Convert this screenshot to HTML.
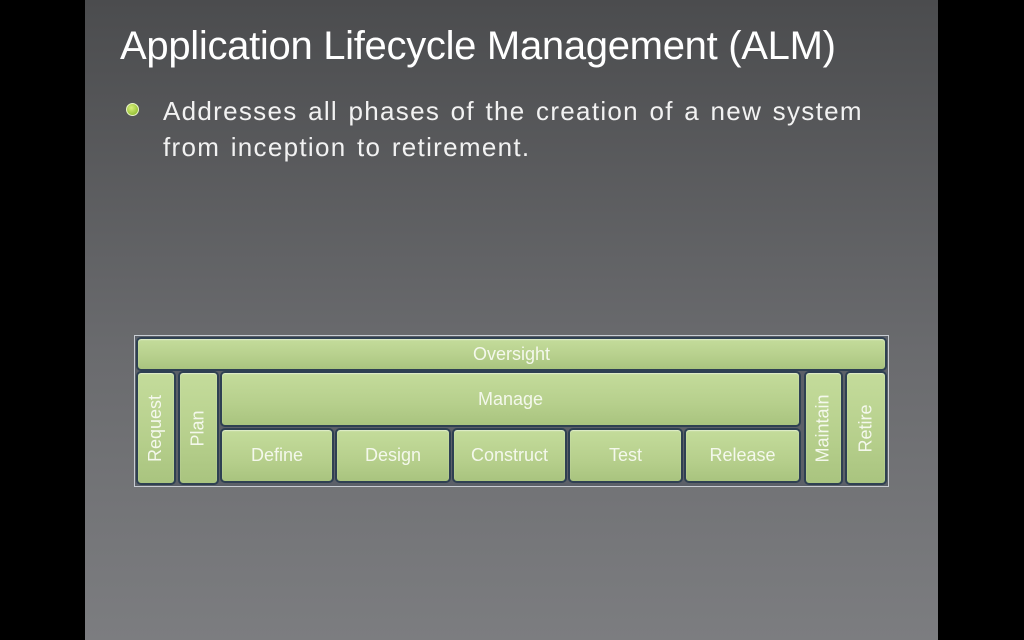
<!DOCTYPE html>
<html><head><style>
body{margin:0;width:1024px;height:640px;background:#000;overflow:hidden;font-family:"Liberation Sans",sans-serif}
#s{position:absolute;left:85px;top:0;width:853px;height:640px;background:linear-gradient(#4b4c4e,#6a6b6e 55%,#7c7d80)}
.t{position:absolute;white-space:nowrap;color:#fff;transform-origin:0 0}
.b{position:absolute;background:linear-gradient(#c4dc9b,#b6cf8c 60%,#a9c47f);border:2px solid #2e4052;border-radius:5px;box-sizing:border-box;color:#f4f8ec;font-size:18px;display:flex;align-items:center;justify-content:center;box-shadow:inset 0 1px 1px rgba(255,255,255,.5)}
.v span{transform:rotate(-90deg);white-space:nowrap;display:block}
</style></head><body>
<div id="s"></div>
<div class="t" id="title" style="left:120px;top:24px;font-size:40px;letter-spacing:-0.3px;transform:scaleX(1.0)">Application Lifecycle Management (ALM)</div>
<div style="position:absolute;left:126px;top:103px;width:11px;height:11px;border-radius:50%;background:radial-gradient(circle at 40% 35%,#d8f07a,#7fb020);border:1px solid #e9f4c8"></div>
<div class="t" style="left:163px;top:93px;font-size:26px;line-height:36px;color:#f2f2f2;letter-spacing:1.3px;word-spacing:2px">Addresses all phases of the creation of a new system<br>from inception to retirement.</div>
<div style="position:absolute;left:134px;top:335px;width:755px;height:152px;background:#c8cdd3"></div>
<div style="position:absolute;left:135px;top:336px;width:753px;height:150px;background:#5b6068"></div>
<div class="b" style="left:136px;top:337px;width:751px;height:34px">Oversight</div>
<div class="b v" style="left:136px;top:371px;width:40px;height:114px"><span>Request</span></div>
<div class="b v" style="left:178px;top:371px;width:41px;height:114px"><span>Plan</span></div>
<div class="b" style="left:220px;top:371px;width:581px;height:56px">Manage</div>
<div class="b" style="left:220px;top:428px;width:114px;height:55px">Define</div>
<div class="b" style="left:335px;top:428px;width:116px;height:55px">Design</div>
<div class="b" style="left:452px;top:428px;width:115px;height:55px">Construct</div>
<div class="b" style="left:568px;top:428px;width:115px;height:55px">Test</div>
<div class="b" style="left:684px;top:428px;width:117px;height:55px">Release</div>
<div class="b v" style="left:804px;top:371px;width:39px;height:114px"><span>Maintain</span></div>
<div class="b v" style="left:845px;top:371px;width:42px;height:114px"><span>Retire</span></div>
</body></html>
